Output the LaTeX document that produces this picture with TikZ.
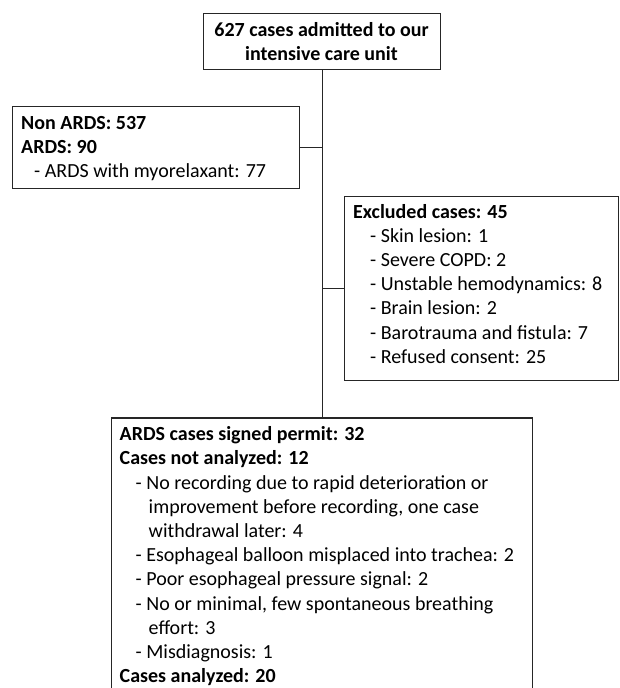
\documentclass[tikz,border=0pt]{standalone}
\usepackage{fontspec}
\setmainfont{Carlito}
\begin{document}
\begin{tikzpicture}[x=1pt,y=-1pt,
  box/.style={draw=black!85, line width=1.2pt, inner sep=0pt, anchor=north west},
  conn/.style={draw=black!85, line width=1.2pt},
  txt/.style={inner sep=0pt, anchor=base west, text=black},
  ctxt/.style={inner sep=0pt, anchor=base, text=black}]
\useasboundingbox (0,0) rectangle (619,688);
\newcommand{\fs}{\fontsize{20}{24.2}\selectfont}
% boxes
\node[box, minimum width=237pt, minimum height=56.3pt] (top) at (203,12.7) {};
\node[box, minimum width=287.3pt, minimum height=82.3pt] (left) at (11.7,105.7) {};
\node[box, minimum width=273.8pt, minimum height=184.3pt] (right) at (343.7,195.7) {};
\node[box, minimum width=421pt, minimum height=300pt] (bottom) at (111,417.3) {};
% connectors
\draw[conn] (top.south) -- (bottom.north);
\draw[conn] (left.east) -- (left.east -| top.south);
\draw[conn] (right.west) -- (right.west -| top.south);
% texts
\node[ctxt] (toptext) at (321.5,36) {\parbox[t]{230pt}{\fs\centering\textbf{627 cases admitted to our}\\\textbf{intensive care unit}}};
\node[txt] (lefttext) at (21,129) {\parbox[t]{270pt}{\fs\raggedright
\textbf{Non ARDS: 537}\\
\textbf{ARDS: 90}\\
\hspace*{13pt}- ARDS with myorelaxant: 77}};
\node[txt] (righttext) at (353,218) {\parbox[t]{260pt}{\fs\raggedright
\textbf{Excluded cases: 45}\\
\hspace*{17pt}- Skin lesion: 1\\
\hspace*{17pt}- Severe COPD: 2\\
\hspace*{17pt}- Unstable hemodynamics: 8\\
\hspace*{17pt}- Brain lesion: 2\\
\hspace*{17pt}- Barotrauma and fistula: 7\\
\hspace*{17pt}- Refused consent: 25}};
\node[txt] (bottomtext) at (119.5,440.7) {\parbox[t]{410pt}{\fs\raggedright
\textbf{ARDS cases signed permit: 32}\\
\textbf{Cases not analyzed: 12}\\
\hspace*{16pt}- No recording due to rapid deterioration or\\
\hspace*{29pt}improvement before recording, one case\\
\hspace*{29pt}withdrawal later: 4\\
\hspace*{16pt}- Esophageal balloon misplaced into trachea: 2\\
\hspace*{16pt}- Poor esophageal pressure signal: 2\\
\hspace*{16pt}- No or minimal, few spontaneous breathing\\
\hspace*{29pt}effort: 3\\
\hspace*{16pt}- Misdiagnosis: 1\\
\textbf{Cases analyzed: 20}}};
\end{tikzpicture}
\end{document}
